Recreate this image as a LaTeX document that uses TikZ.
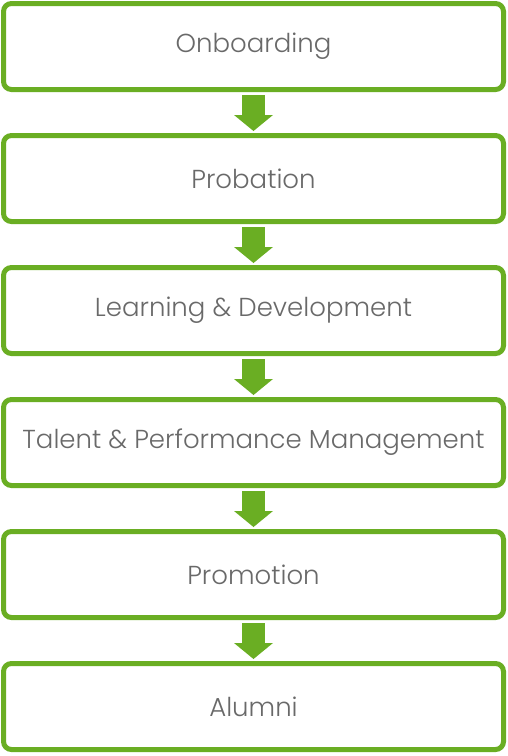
\documentclass[tikz,border=0pt]{standalone}
\usepackage{fontspec}
\setmainfont{Poppins}[UprightFont=* Light]
\usepackage{tikz}
\usetikzlibrary{positioning, arrows.meta}

\definecolor{stagegreen}{RGB}{106,174,35}
\definecolor{stagegray}{RGB}{105,105,105}

\tikzset{
    stage/.style={draw=stagegreen, line width=5pt, rounded corners=8pt,
        minimum width=500pt, minimum height=86pt, text=stagegray,
        font=\fontsize{26}{31}\selectfont, inner sep=0pt},
    flow/.style={stagegreen, line width=23pt, shorten <=3pt, shorten >=2pt,
        -{Triangle[width=39pt, length=16pt, line width=0pt]}}
}

\begin{document}
\begin{tikzpicture}[node distance=41pt]
        \useasboundingbox (0,0) rectangle (508pt,-756pt);

        % stages
        \node[stage] (onboarding) at (253.5pt,-46.5pt) {Onboarding};
        \node[stage, below=of onboarding] (probation) {Probation};
        \node[stage, below=of probation] (learning) {Learning \& Development};
        \node[stage, below=of learning] (talent) {Talent \& Performance Management};
        \node[stage, below=of talent] (promotion) {Promotion};
        \node[stage, below=of promotion] (alumni) {Alumni};

        % arrows between stages
        \draw[flow] (onboarding) -- (probation);
        \draw[flow] (probation) -- (learning);
        \draw[flow] (learning) -- (talent);
        \draw[flow] (talent) -- (promotion);
        \draw[flow] (promotion) -- (alumni);
\end{tikzpicture}
\end{document}
